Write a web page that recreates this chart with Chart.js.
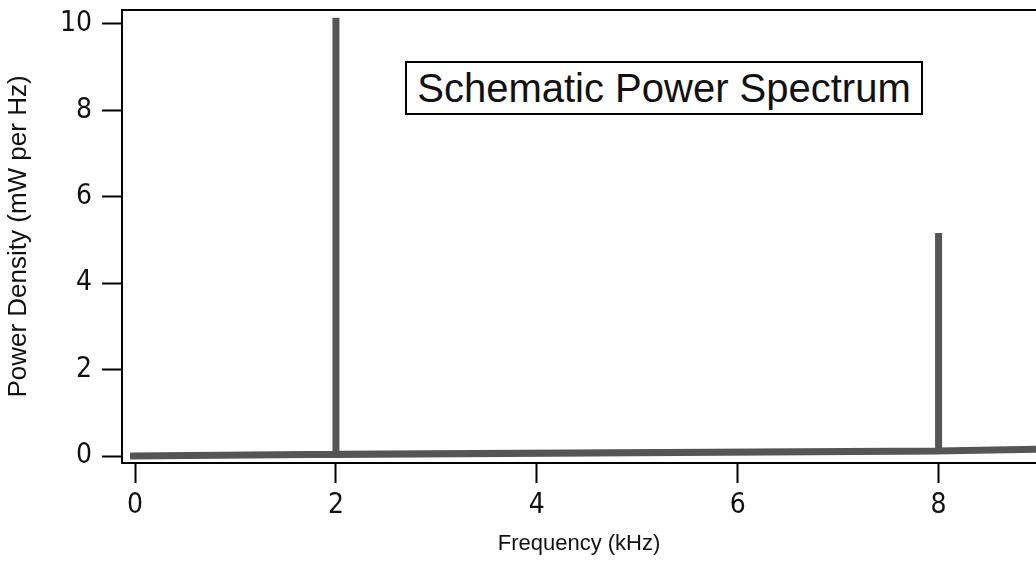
<!DOCTYPE html>
<html>
<head>
<meta charset="utf-8">
<script src="https://cdn.jsdelivr.net/npm/chart.js@4"></script>
<style>
    html, body { margin: 0; padding: 0; background: #fff; }
    #contenedor { position: relative; width: 1036px; height: 569px; }
    #titulo {
        position: absolute; left: 405px; top: 61px; width: 514px; height: 50px;
        border: 2px solid #000; background: #fff;
        font-family: Arial, 'Liberation Sans', sans-serif; font-size: 40px;
        line-height: 50px; text-align: center; color: #111;
    }
</style>
</head>
<body>
<div id="contenedor">
    <canvas id="grafico" width="1036" height="569"></canvas>
    <div id="titulo">Schematic Power Spectrum</div>
</div>
<script>
// Datos del espectro: frecuencia (kHz) y densidad (mW por Hz)
const frecuencias = [-0.05, 2.0, 2.0, 2.0, 8.0, 8.0, 8.0, 8.97];
const densidades  = [0.0, 0.04, 10.14, 0.04, 0.12, 5.16, 0.12, 0.16];
const ticksX = [0, 2, 4, 6, 8];
const ticksY = [0, 2, 4, 6, 8, 10];

const puntos = frecuencias.map((f, i) => ({ x: f, y: densidades[i] }));

const fuenteTicks = { family: "'Liberation Sans Narrow', 'DejaVu Sans Condensed', Arial", size: 28 };

// Dibuja el borde superior del área del gráfico
const bordeSuperior = {
    id: 'bordeSuperior',
    afterDraw(chart) {
        const { ctx, chartArea } = chart;
        ctx.save();
        ctx.strokeStyle = '#000';
        ctx.lineWidth = 2;
        ctx.beginPath();
        ctx.moveTo(chartArea.left, chartArea.top);
        ctx.lineTo(chartArea.right, chartArea.top);
        ctx.stroke();
        ctx.restore();
    }
};

const ctx = document.getElementById('grafico').getContext('2d');

new Chart(ctx, {
    type: 'scatter',
    data: {
        datasets: [{
            data: puntos,
            showLine: true,
            borderColor: '#555',
            borderWidth: 7,
            pointRadius: 0,
            tension: 0
        }]
    },
    options: {
        responsive: false,
        animation: false,
        layout: { padding: { top: 10, right: 0, left: 0, bottom: 0 } },
        plugins: { legend: { display: false }, tooltip: { enabled: false } },
        scales: {
            x: {
                type: 'linear',
                min: -0.13,
                max: 8.97,
                afterBuildTicks: (escala) => { escala.ticks = ticksX.map(v => ({ value: v })); },
                afterFit: (escala) => {
                    escala.height = 106;
                    escala.paddingLeft = 0;
                    escala.paddingRight = 0;
                },
                ticks: { color: '#111', font: fuenteTicks, padding: 6, maxRotation: 0 },
                grid: { drawOnChartArea: false, drawTicks: true, tickLength: 20, tickColor: '#000', tickWidth: 2 },
                border: { display: true, color: '#000', width: 2 },
                title: {
                    display: true,
                    text: 'Frequency (kHz)',
                    color: '#111',
                    font: { family: 'Arial, sans-serif', size: 22 },
                    padding: { top: 0, bottom: 12 }
                }
            },
            y: {
                type: 'linear',
                min: -0.16,
                max: 10.32,
                afterBuildTicks: (escala) => { escala.ticks = ticksY.map(v => ({ value: v })); },
                afterFit: (escala) => {
                    escala.width = 122;
                    escala.paddingTop = 0;
                    escala.paddingBottom = 0;
                },
                ticks: { color: '#111', font: fuenteTicks, padding: 10 },
                grid: { drawOnChartArea: false, drawTicks: true, tickLength: 20, tickColor: '#000', tickWidth: 2 },
                border: { display: true, color: '#000', width: 2 },
                title: {
                    display: true,
                    text: 'Power Density (mW per Hz)',
                    color: '#111',
                    font: { family: 'Arial, sans-serif', size: 26 },
                    padding: { top: 3, bottom: 0 }
                }
            }
        }
    },
    plugins: [bordeSuperior]
});
</script>
</body>
</html>
